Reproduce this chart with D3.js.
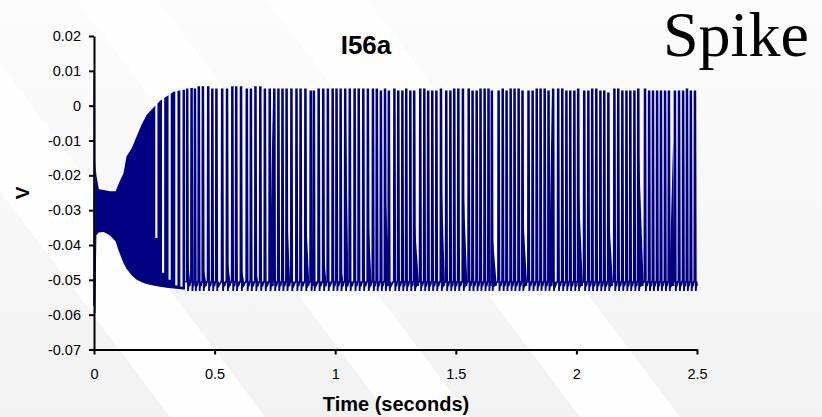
<!DOCTYPE html>
<html>
<head>
<meta charset="utf-8">
<script src="https://cdn.jsdelivr.net/npm/d3@7"></script>
<style>
	body { margin: 0; background: #fff; }
	svg { display: block; }
	.tick text { font-family: "Liberation Sans", Arial, sans-serif; font-size: 14.5px; fill: #000; }
</style>
</head>
<body>
<svg id="chart" width="822" height="417"></svg>
<script>
// onset of the recording (first transient)
var onsetTimes = [0, 0.001, 0.003, 0.005];
var onsetVolts = [-0.0575, 0.0095, -0.0595, -0.040];

// envelope of the dense oscillation band before regular firing
var bandTimes = [0.005, 0.010, 0.020, 0.040, 0.065, 0.090, 0.100, 0.110, 0.122, 0.135, 0.156, 0.177, 0.198, 0.218, 0.246, 0.274, 0.301, 0.330, 0.370, 0.378];
var bandUpper = [-0.016, -0.020, -0.0240, -0.0242, -0.0246, -0.0246, -0.0228, -0.0212, -0.0195, -0.0145, -0.0123, -0.0088, -0.0053, -0.0027, -0.0006, 0.0014, 0.0026, 0.0040, 0.0046, 0.0046];
var bandLower = [-0.058, -0.0372, -0.0364, -0.0363, -0.0372, -0.0390, -0.0412, -0.0430, -0.0452, -0.0468, -0.0487, -0.0500, -0.0507, -0.0512, -0.0516, -0.0520, -0.0523, -0.0525, -0.0528, -0.0528];

// white notches inside the band: [start, end, lowest voltage reached]
var bandGaps = [
	[0.254, 0.263, -0.038],
	[0.282, 0.291, -0.048],
	[0.309, 0.318, -0.050],
	[0.337, 0.346, -0.0516],
	[0.358, 0.367, -0.052]
];

// regular spikes: time (s) and peak (V)
var spikeTimes = [
	0.384, 0.402, 0.416, 0.432, 0.449, 0.471, 0.488, 0.505, 0.529, 0.549, 0.571, 0.587, 0.607, 0.631, 0.648, 0.667, 0.687, 0.706, 0.726, 0.745, 0.762,
	0.779, 0.796, 0.816, 0.837, 0.854, 0.874, 0.896, 0.909, 0.929, 0.948, 0.967, 0.987, 1.003, 1.020, 1.039, 1.058, 1.078, 1.095, 1.114, 1.133,
	1.154, 1.170, 1.187, 1.204, 1.220, 1.243, 1.259, 1.276, 1.292, 1.309, 1.325, 1.350, 1.367, 1.383, 1.400, 1.417, 1.436, 1.458, 1.475, 1.491, 1.508, 1.527,
	1.551, 1.567, 1.584, 1.600, 1.617, 1.633, 1.647, 1.675, 1.692, 1.708, 1.725, 1.741, 1.758, 1.774, 1.799, 1.816, 1.833, 1.849, 1.866, 1.882, 1.901,
	1.922, 1.939, 1.956, 1.972, 1.989, 2.005, 2.030, 2.047, 2.063, 2.080, 2.097, 2.113, 2.130, 2.155, 2.171, 2.188, 2.205, 2.221, 2.238, 2.254,
	2.282, 2.299, 2.315, 2.332, 2.348, 2.365, 2.381, 2.406, 2.423, 2.440, 2.456, 2.472, 2.489
];
var spikePeaks = [
	0.0047, 0.0048, 0.0047, 0.0053, 0.0053, 0.0053, 0.0047, 0.0047, 0.0047, 0.0047, 0.0053, 0.0053, 0.0053, 0.0047, 0.0047, 0.0053, 0.0053, 0.0047, 0.0047, 0.0047, 0.0047,
	0.0047, 0.0047, 0.0047, 0.0047, 0.0047, 0.0047, 0.0041, 0.0041, 0.0047, 0.0047, 0.0047, 0.0047, 0.0047, 0.0047, 0.0047, 0.0047, 0.0047, 0.0047, 0.0047, 0.0047,
	0.0047, 0.0047, 0.0041, 0.0047, 0.0041, 0.0047, 0.0041, 0.0041, 0.0047, 0.0041, 0.0041, 0.0047, 0.0047, 0.0041, 0.0041, 0.0041, 0.0047, 0.0041, 0.0041, 0.0047, 0.0047, 0.0047,
	0.0047, 0.0041, 0.0041, 0.0047, 0.0047, 0.0047, 0.0041, 0.0041, 0.0047, 0.0041, 0.0047, 0.0047, 0.0047, 0.0041, 0.0041, 0.0041, 0.0047, 0.0047, 0.0047, 0.0041, 0.0047,
	0.0047, 0.0047, 0.0041, 0.0041, 0.0041, 0.0047, 0.0041, 0.0041, 0.0047, 0.0047, 0.0041, 0.0041, 0.0035, 0.0047, 0.0047, 0.0041, 0.0041, 0.0041, 0.0041, 0.0047,
	0.0047, 0.0041, 0.0041, 0.0041, 0.0041, 0.0041, 0.0041, 0.0041, 0.0041, 0.0041, 0.0047, 0.0041, 0.0041
];

// after-hyperpolarisation levels between spikes
var troughMin = -0.0532;
var restHigh = -0.0505;
var restLow = -0.0518;
var traceEnd = 2.497;

// slow depolarising humps near the trough: [left, apex time, right, apex voltage]
var humps = [
	[0.386, 0.387, 0.400, -0.042],
	[0.454, 0.455, 0.468, -0.0468],
	[0.554, 0.555, 0.568, -0.045],
	[0.611, 0.612, 0.626, -0.0468],
	[0.672, 0.673, 0.684, -0.0478],
	[0.729, 0.741, 0.745, 0.002],
	[0.800, 0.801, 0.814, -0.031],
	[0.878, 0.879, 0.893, -0.0315],
	[0.952, 0.953, 0.965, -0.0425],
	[1.024, 1.028, 1.036, -0.048],
	[1.042, 1.043, 1.055, 0.003],
	[1.136, 1.137, 1.151, -0.030],
	[1.209, 1.210, 1.228, -0.0276],
	[1.329, 1.330, 1.348, -0.0338],
	[1.439, 1.440, 1.455, -0.0185],
	[1.531, 1.532, 1.548, -0.0233],
	[1.651, 1.652, 1.670, -0.0365],
	[1.778, 1.779, 1.796, -0.031],
	[1.886, 1.898, 1.901, 0.003],
	[2.009, 2.010, 2.027, -0.0243],
	[2.134, 2.135, 2.152, -0.031],
	[2.258, 2.259, 2.279, -0.0132],
	[2.385, 2.401, 2.406, -0.010]
];

var xTicks = [0, 0.5, 1, 1.5, 2, 2.5];
var xTickLabels = ["0", "0.5", "1", "1.5", "2", "2.5"];
var yTicks = [0.02, 0.01, 0, -0.01, -0.02, -0.03, -0.04, -0.05, -0.06, -0.07];
var yTickLabels = ["0.02", "0.01", "0", "-0.01", "-0.02", "-0.03", "-0.04", "-0.05", "-0.06", "-0.07"];

var traceColor = "#000080";
var svg = d3.select("#chart");

// slide background: pale diagonal bands, fading out towards the top
var defs = svg.append("defs");
var fade = defs.append("linearGradient")
	.attr("id", "fade")
	.attr("x1", 0).attr("y1", 0).attr("x2", 0).attr("y2", 1);
fade.append("stop").attr("offset", "0%").attr("stop-color", "#f4f4f4").attr("stop-opacity", 0.25);
fade.append("stop").attr("offset", "100%").attr("stop-color", "#f2f2f2").attr("stop-opacity", 1);

svg.append("rect").attr("width", 822).attr("height", 417).attr("fill", "#fefefe");
var bands = [[-400, 170], [265, 390], [470, 580], [680, 1200]];
var slant = 0.75;
svg.selectAll(".band")
	.data(bands)
	.enter()
	.append("polygon")
	.attr("class", "band")
	.attr("fill", "url(#fade)")
	.attr("points", function(b) {
		var top = 417 * slant;
		return [[b[0] - top, 0], [b[1] - top, 0], [b[1], 417], [b[0], 417]].join(" ");
	});

var x = d3.scaleLinear().domain([0, 2.5]).range([94, 697]);
var y = d3.scaleLinear().domain([-0.07, 0.02]).range([349.5, 36]);

var plot = svg.append("g");

// dense band, drawn block by block between its notches
var band = bandTimes.map(function(t, i) { return [t, bandUpper[i], bandLower[i]]; });
var edges = [bandTimes[0]];
bandGaps.forEach(function(g) { edges.push(g[0], g[1]); });
edges.push(bandTimes[bandTimes.length - 1]);

var clip = defs.append("clipPath").attr("id", "bandClip");
for (var k = 0; k < edges.length; k += 2) {
	clip.append("rect")
		.attr("x", x(edges[k]) - (k === 0 ? 2 : 0))
		.attr("width", x(edges[k + 1]) - x(edges[k]) + (k === 0 ? 2 : 0))
		.attr("y", 0).attr("height", 417);
}
clip.selectAll("rect.under")
	.data(bandGaps)
	.enter()
	.append("rect")
	.attr("class", "under")
	.attr("x", d => x(d[0]) - 0.5)
	.attr("width", d => x(d[1]) - x(d[0]) + 1)
	.attr("y", d => y(d[2]))
	.attr("height", d => 417 - y(d[2]));

plot.append("path")
	.datum(band)
	.attr("fill", traceColor)
	.attr("clip-path", "url(#bandClip)")
	.attr("d", d3.area()
		.x(d => x(d[0]))
		.y0(d => y(d[2]))
		.y1(d => y(d[1])));

plot.selectAll(".hump")
	.data(humps)
	.enter()
	.append("path")
	.attr("class", "hump")
	.attr("fill", traceColor)
	.attr("d", function(h) {
		return d3.area()
			.x(d => x(d[0]))
			.y0(y(restLow))
			.y1(d => y(d[1]))([[h[0], restLow], [h[1], h[3]], [h[2], restLow]]);
	});

var onset = onsetTimes.map(function(t, i) { return [t, onsetVolts[i]]; });
plot.append("path")
	.datum(onset)
	.attr("fill", "none")
	.attr("stroke", traceColor)
	.attr("stroke-width", 1.6)
	.attr("d", d3.line().x(d => x(d[0])).y(d => y(d[1])));

var pts = [[bandTimes[bandTimes.length - 1], restHigh]];
spikeTimes.forEach(function(t, i) {
	var next = i < spikeTimes.length - 1 ? spikeTimes[i + 1] : traceEnd;
	pts.push([t, restHigh], [t + 0.001, spikePeaks[i]], [t + 0.004, spikePeaks[i]],
		[t + 0.006, troughMin], [t + 0.009, restHigh], [t + 0.011, restLow], [next - 0.002, restHigh]);
});
plot.append("path")
	.datum(pts)
	.attr("fill", "none")
	.attr("stroke", traceColor)
	.attr("stroke-width", 1.8)
	.attr("stroke-linejoin", "miter")
	.attr("d", d3.line().x(d => x(d[0])).y(d => y(d[1])));

// axes
svg.append("g")
	.attr("transform", "translate(0," + y(-0.07) + ")")
	.call(d3.axisBottom(x).tickValues(xTicks).tickSize(5).tickSizeOuter(0).tickPadding(14)
		.tickFormat((d, i) => xTickLabels[i]));
svg.append("g")
	.attr("transform", "translate(" + x(0) + ",0)")
	.call(d3.axisLeft(y).tickValues(yTicks).tickSize(5).tickSizeOuter(0).tickPadding(8)
		.tickFormat((d, i) => yTickLabels[i]));
svg.selectAll(".domain, .tick line").attr("stroke", "#000").attr("stroke-width", 2);

svg.append("text")
	.attr("x", 366).attr("y", 54)
	.attr("text-anchor", "middle")
	.style("font", "bold 26px 'Liberation Sans', Arial, sans-serif")
	.text("I56a");

svg.append("text")
	.attr("x", 396).attr("y", 411)
	.attr("text-anchor", "middle")
	.style("font", "bold 20px 'Liberation Sans', Arial, sans-serif")
	.text("Time (seconds)");

svg.append("text")
	.attr("transform", "translate(29,193) rotate(-90)")
	.attr("text-anchor", "middle")
	.style("font", "bold 19px 'Liberation Sans', Arial, sans-serif")
	.text("V");

svg.append("text")
	.attr("x", 663).attr("y", 56)
	.style("font", "64px 'Liberation Serif', 'Times New Roman', serif")
	.text("Spike");
</script>
</body>
</html>
